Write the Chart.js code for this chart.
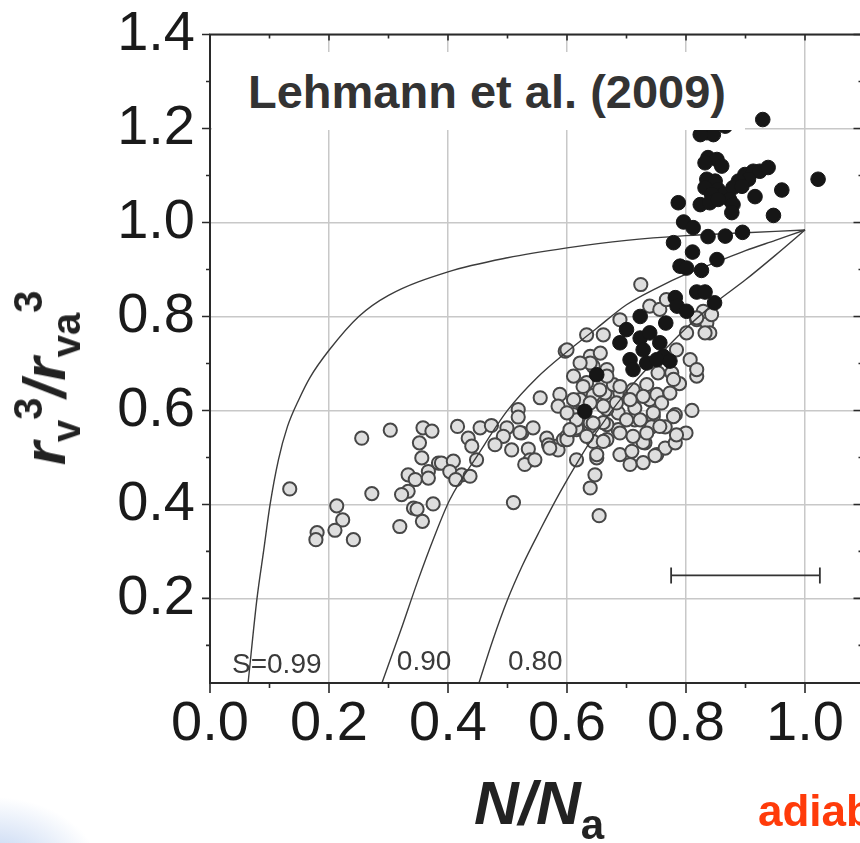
<!DOCTYPE html>
<html lang="en">
<head>
    <title>Lehmann et al. (2009)</title>
    <script src="https://cdn.jsdelivr.net/npm/chart.js@4.4.1/dist/chart.umd.min.js"></script>
    <style>
        body { margin: 0; background: #fff; overflow: hidden; width: 860px; height: 843px; position: relative; }
        #zone { position: absolute; left: 0; top: 0; }
        .txt { position: absolute; white-space: nowrap; font-family: "Liberation Sans", Arial, sans-serif; line-height: 1; }
        #titreY { left: 47px; top: 378px; transform: translate(-50%, -50%) rotate(-90deg); font-size: 60px; font-weight: bold; font-style: italic; color: #222; }
        #titreX { left: 474px; top: 772px; font-size: 62px; font-weight: bold; font-style: italic; color: #222; }
        .sub, .sup { font-size: 40px; font-style: normal; }
        #encart { position: absolute; left: 212px; top: 52px; width: 533px; height: 78px; background: #fff; }
        #ref { left: 36px; top: 16px; font-size: 47px; font-weight: bold; color: #333; }
        #adia { left: 758px; top: 789px; font-size: 44px; font-weight: bold; color: #ff3b0a; }
        #lueur { position: absolute; left: -60px; top: 790px; width: 170px; height: 120px;
                 background: radial-gradient(ellipse at 30% 70%, rgba(120,160,225,0.55), rgba(120,160,225,0) 65%); }
    </style>
</head>
<body>
<div id="lueur"></div>
<canvas id="zone" width="880" height="843"></canvas>
<div id="encart"><div class="txt" id="ref">Lehmann et al. (2009)</div></div>
<div class="txt" id="titreY">r<span class="sub" style="vertical-align:-15px">v</span><span class="sup" style="vertical-align:23px">3</span>/r<span class="sub" style="vertical-align:-15px">va</span><span class="sup" style="vertical-align:23px">3</span></div>
<div class="txt" id="titreX">N/N<span class="sub" style="vertical-align:-15px;font-size:42px">a</span></div>
<div class="txt" id="adia">adiabatic</div>

<script>
    // points gris (cercles ouverts)
    var grisX = [0.134, 0.255, 0.303, 0.358, 0.373, 0.352, 0.356, 0.367, 0.333, 0.345, 0.367, 0.333, 0.322, 0.272, 0.213, 0.223, 0.210, 0.180, 0.178, 0.241, 0.319, 0.342, 0.348, 0.357, 0.375, 0.384,
        0.389, 0.409, 0.403, 0.423, 0.437, 0.413, 0.448, 0.416, 0.434, 0.440, 0.454, 0.473, 0.499, 0.493, 0.479, 0.507, 0.518, 0.518, 0.524, 0.543, 0.535, 0.555, 0.566, 0.588, 0.585, 0.583, 0.538, 0.529, 0.546, 0.510, 0.569, 0.585, 0.594, 0.608, 0.616, 0.521, 0.571, 0.600, 0.616,
        0.650, 0.644, 0.647, 0.639, 0.654,
        0.597, 0.633, 0.661, 0.611, 0.600, 0.616, 0.639, 0.633, 0.622, 0.639, 0.650, 0.664, 0.667, 0.644, 0.724,
        0.661, 0.689, 0.706, 0.709, 0.728, 0.731, 0.751, 0.765, 0.782,
        0.810, 0.818, 0.789, 0.782, 0.800, 0.765, 0.745, 0.742, 0.728, 0.748, 0.686, 0.667, 0.686, 0.714, 0.714, 0.739, 0.751, 0.759, 0.689, 0.678, 0.706, 0.734, 0.753, 0.776,
        0.656, 0.622, 0.644, 0.667, 0.639, 0.661, 0.667,
        0.600, 0.689, 0.739, 0.756, 0.767, 0.818, 0.835, 0.840, 0.829, 0.801, 0.784, 0.807, 0.818, 0.779, 0.711, 0.689, 0.667, 0.639, 0.622, 0.611, 0.627, 0.655, 0.611, 0.639, 0.661, 0.683, 0.706, 0.728, 0.773, 0.745, 0.723, 0.700, 0.644, 0.616, 0.600, 0.779, 0.756, 0.734, 0.711, 0.689, 0.633, 0.605, 0.784, 0.818, 0.843, 0.832];
    var grisY = [0.433, 0.541, 0.558, 0.563, 0.556, 0.531, 0.499, 0.470, 0.463, 0.453, 0.456, 0.428, 0.421, 0.423, 0.397, 0.367, 0.345, 0.340, 0.325, 0.325, 0.353, 0.392, 0.390, 0.364, 0.401, 0.488,
        0.488, 0.492, 0.470, 0.463, 0.460, 0.453, 0.495, 0.566, 0.541, 0.524, 0.563, 0.568, 0.563, 0.545, 0.527, 0.516, 0.602, 0.586, 0.552, 0.563, 0.518, 0.627, 0.541, 0.634, 0.609, 0.524, 0.495, 0.485, 0.495, 0.404, 0.527, 0.516, 0.538, 0.559, 0.495, 0.553, 0.520, 0.545, 0.559,
        0.499, 0.534, 0.463, 0.435, 0.376,
        0.726, 0.761, 0.761, 0.591, 0.538, 0.563, 0.715, 0.659, 0.619, 0.566, 0.506, 0.637, 0.538, 0.694, 0.868,
        0.534, 0.506, 0.485, 0.513, 0.489, 0.531, 0.506, 0.520, 0.531,
        0.600, 0.673, 0.657, 0.591, 0.552, 0.565, 0.587, 0.565, 0.532, 0.504, 0.559, 0.570, 0.595, 0.580, 0.605, 0.623, 0.634, 0.616, 0.637, 0.655, 0.634, 0.655, 0.680, 0.680,
        0.722, 0.623, 0.632, 0.603, 0.574, 0.574, 0.687,
        0.729, 0.793, 0.822, 0.815, 0.836, 0.793, 0.786, 0.765, 0.811, 0.765, 0.729, 0.708, 0.687, 0.666, 0.644, 0.651, 0.673, 0.701, 0.701, 0.673, 0.651, 0.644, 0.623, 0.616, 0.609, 0.616, 0.623, 0.630, 0.637, 0.595, 0.580, 0.580, 0.573, 0.580, 0.595, 0.587, 0.566, 0.552, 0.545, 0.552, 0.545, 0.559, 0.548, 0.797, 0.804, 0.765];

    // points noirs
    var noirX = [0.929, 0.835, 0.846, 0.824, 0.866, 0.837, 0.852, 0.860, 0.832, 0.835, 0.849, 0.832, 0.854, 0.863, 0.843, 0.899, 0.913, 0.924, 0.938, 0.905, 0.888, 0.879, 0.894, 1.022, 0.961, 0.916, 0.873, 0.879, 0.787, 0.824, 0.840, 0.854, 0.877, 0.947, 0.796, 0.812, 0.837, 0.866, 0.895, 0.779, 0.811, 0.852, 0.790, 0.801, 0.826, 0.818, 0.832, 0.848, 0.782,
        0.785, 0.801, 0.723, 0.766, 0.700, 0.689, 0.723, 0.739, 0.728, 0.756, 0.762, 0.706, 0.734, 0.711, 0.751, 0.773, 0.650, 0.630];
    var noirY = [1.219, 1.191, 1.187, 1.187, 1.205, 1.138, 1.134, 1.120, 1.127, 1.092, 1.088, 1.074, 1.070, 1.060, 1.060, 1.102, 1.109, 1.109, 1.117, 1.092, 1.088, 1.074, 1.077, 1.092, 1.069, 1.055, 1.049, 1.038, 1.042, 1.038, 1.042, 1.049, 1.021, 1.015, 1.001, 0.989, 0.970, 0.971, 0.979, 0.957, 0.937, 0.921, 0.907, 0.903, 0.898, 0.852, 0.852, 0.829, 0.840,
        0.822, 0.811, 0.800, 0.786, 0.772, 0.744, 0.754, 0.765, 0.729, 0.744, 0.715, 0.708, 0.701, 0.687, 0.708, 0.705, 0.676, 0.598];

    // courbes S
    var s99X = [0.064, 0.079, 0.090, 0.101, 0.115, 0.130, 0.150, 0.168, 0.200, 0.250, 0.300, 0.400, 0.500, 0.600, 0.700, 0.800, 0.900, 1.000];
    var s99Y = [0.020, 0.200, 0.300, 0.400, 0.495, 0.565, 0.625, 0.670, 0.728, 0.800, 0.845, 0.895, 0.925, 0.946, 0.962, 0.972, 0.978, 0.984];
    var s90X = [0.289, 0.320, 0.350, 0.375, 0.403, 0.450, 0.500, 0.550, 0.600, 0.650, 0.700, 0.750, 0.800, 0.850, 0.900, 0.950, 1.000];
    var s90Y = [0.020, 0.130, 0.240, 0.325, 0.410, 0.505, 0.600, 0.670, 0.725, 0.775, 0.825, 0.860, 0.890, 0.915, 0.940, 0.962, 0.984];
    var s80X = [0.452, 0.475, 0.500, 0.525, 0.555, 0.588, 0.620, 0.650, 0.700, 0.750, 0.800, 0.850, 0.900, 0.950, 1.000];
    var s80Y = [0.020, 0.110, 0.197, 0.270, 0.346, 0.425, 0.495, 0.555, 0.640, 0.710, 0.775, 0.830, 0.878, 0.930, 0.984];

    // barre d'erreur
    var barreX = [0.775, 1.025];
    var barreY = [0.249, 0.249];

    // étiquettes des courbes
    var etiqTexte = ['S=0.99', '0.90', '0.80'];
    var etiqX = [0.037, 0.314, 0.501];
    var etiqY = [0.042, 0.048, 0.048];

    function paires(xs, ys) {
        var out = [];
        for (var i = 0; i < xs.length; i++) {
            out.push({x: xs[i], y: ys[i]});
        }
        return out;
    }

    function courbe(xs, ys) {
        return {
            data: paires(xs, ys),
            showLine: true,
            borderColor: '#3c3c3c',
            borderWidth: 1.4,
            pointRadius: 0,
            cubicInterpolationMode: 'monotone',
            order: 1
        };
    }

    var police = '"Liberation Sans", Arial, sans-serif';

    // cadre, graduations et étiquettes S
    var cadre = {
        id: 'cadre',
        afterDatasetsDraw: function (chart) {
            var c = chart.ctx;
            var a = chart.chartArea;
            var sx = chart.scales.x;
            var sy = chart.scales.y;
            c.save();
            c.strokeStyle = '#2a2a2a';
            c.lineWidth = 2;
            c.strokeRect(a.left, a.top, a.right - a.left, a.bottom - a.top);
            c.lineWidth = 1.6;
            c.beginPath();
            for (var i = 0; i <= 11; i++) {
                var px = sx.getPixelForValue(i / 10);
                var maj = i % 2 === 0;
                c.moveTo(px, a.bottom);
                c.lineTo(px, a.bottom + (maj ? 10 : 5));
                c.moveTo(px, a.top);
                c.lineTo(px, a.top + (maj ? 6 : 4));
            }
            for (var j = 1; j <= 14; j++) {
                var py = sy.getPixelForValue(j / 10);
                var majY = j % 2 === 0;
                c.moveTo(a.left, py);
                c.lineTo(a.left - (majY ? 8 : 4), py);
                c.moveTo(a.right, py);
                c.lineTo(a.right - (majY ? 11 : 6), py);
            }
            c.stroke();
            c.fillStyle = '#3a3a3a';
            c.font = '28px ' + police;
            c.textBaseline = 'alphabetic';
            c.textAlign = 'left';
            for (var k = 0; k < etiqTexte.length; k++) {
                c.fillText(etiqTexte[k], sx.getPixelForValue(etiqX[k]), sy.getPixelForValue(etiqY[k]));
            }
            c.restore();
        }
    };

    var ctx = document.getElementById('zone').getContext('2d');
    var chart = new Chart(ctx, {
        type: 'scatter',
        data: {
            datasets: [
                {
                    data: paires(noirX, noirY),
                    pointRadius: 7.3,
                    pointBackgroundColor: '#161616',
                    pointBorderColor: '#161616',
                    pointBorderWidth: 1,
                    order: 0
                },
                courbe(s99X, s99Y),
                courbe(s90X, s90Y),
                courbe(s80X, s80Y),
                {
                    data: paires(barreX, barreY),
                    showLine: true,
                    borderColor: '#333',
                    borderWidth: 1.8,
                    pointStyle: 'line',
                    pointRotation: 90,
                    pointRadius: 8,
                    pointBorderColor: '#333',
                    pointBorderWidth: 1.8,
                    order: 1
                },
                {
                    data: paires(grisX, grisY),
                    pointRadius: 6.6,
                    pointBackgroundColor: '#dedede',
                    pointBorderColor: '#474747',
                    pointBorderWidth: 2,
                    order: 2
                }
            ]
        },
        options: {
            responsive: false,
            animation: false,
            events: [],
            layout: {padding: {top: 34.5, right: 15.5, bottom: 0, left: 0}},
            plugins: {legend: {display: false}, tooltip: {enabled: false}},
            scales: {
                x: {
                    type: 'linear', min: 0, max: 1.1,
                    afterFit: function (s) { s.height = 160; s.paddingLeft = 0; s.paddingRight = 0; },
                    border: {display: false},
                    grid: {color: '#c8c8c8', lineWidth: 1.5, drawTicks: false},
                    ticks: {
                        stepSize: 0.2, includeBounds: false, autoSkip: false, maxRotation: 0,
                        padding: 8, color: '#1a1a1a', font: {family: police, size: 56},
                        callback: function (v) { return v.toFixed(1); }
                    }
                },
                y: {
                    type: 'linear', min: 0.02, max: 1.4,
                    afterFit: function (s) { s.width = 210; s.paddingTop = 0; s.paddingBottom = 0; },
                    border: {display: false},
                    grid: {color: '#c8c8c8', lineWidth: 1.5, drawTicks: false},
                    ticks: {
                        stepSize: 0.2, includeBounds: false, autoSkip: false,
                        padding: 15, color: '#1a1a1a', font: {family: police, size: 56},
                        callback: function (v) { return v.toFixed(1); }
                    }
                }
            }
        },
        plugins: [cadre]
    });
</script>
</body>
</html>
